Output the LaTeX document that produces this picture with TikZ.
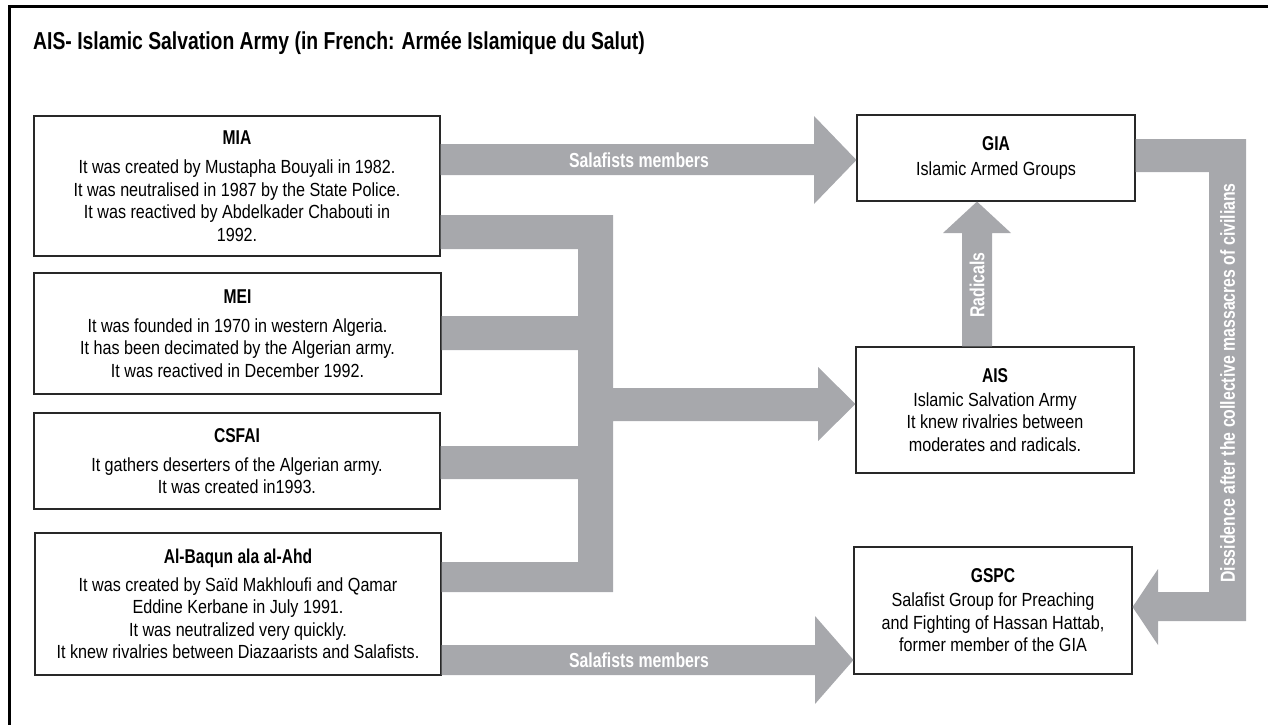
\documentclass[tikz,border=0pt]{standalone}
\usepackage{fontspec}
\setmainfont{Liberation Sans}
\newfontfamily\condreg[FakeStretch=0.85]{Liberation Sans}
\newfontfamily\condbold[FakeStretch=0.78]{Liberation Sans Bold}
\newfontfamily\condtitle[FakeStretch=0.79]{Liberation Sans Bold}

\newcommand{\bodytext}{\condreg\fontsize{19}{22.5}\selectfont}
\newcommand{\headtext}{\condbold\fontsize{20}{22.5}\selectfont}
\newcommand{\labeltext}{\condbold\fontsize{20.3}{22}\selectfont}
\newcommand{\titletext}{\condtitle\fontsize{24.5}{28}\selectfont}

\definecolor{arrowgray}{RGB}{167,168,172}
\definecolor{boxline}{RGB}{40,40,40}

\begin{document}
\begin{tikzpicture}[x=1pt,y=-1pt,
  box/.style={draw=boxline, line width=1.1pt, fill=white, align=center,
    inner sep=0pt, font=\bodytext},
  flow/.style={fill=arrowgray},
  flowlabel/.style={text=white, font=\labeltext, inner sep=0pt}]

\useasboundingbox (0,0) rectangle (1268,725);

% outer frame (top and left rules)
\draw[line width=3pt] (1268,7) -- (9.5,7) -- (9.5,725);

% heading
\node[anchor=base west, font=\titletext, inner sep=0pt] (title) at (33,50)
  {AIS- Islamic Salvation Army (in French: Armée Islamique du Salut)};

% box centres
\path
  (237,186)   coordinate (pmia)
  (237.5,333.5) coordinate (pmei)
  (237,461)   coordinate (pcsfai)
  (238,604)   coordinate (pbaqun)
  (996,158)   coordinate (pgia)
  (995,410)   coordinate (pais)
  (993,610.5) coordinate (pgspc);

% boxes: left column
\node[box, minimum width=406pt, minimum height=140pt] (mia) at (pmia)
  {{\headtext MIA}\\[6.5pt]
   It was created by Mustapha Bouyali in 1982.\\
   It was neutralised in 1987 by the State Police.\\
   It was reactived by Abdelkader Chabouti in\\
   1992.};
\node[box, minimum width=407pt, minimum height=121pt] (mei) at (pmei)
  {{\headtext MEI}\\[6.5pt]
   It was founded in 1970 in western Algeria.\\
   It has been decimated by the Algerian army.\\
   It was reactived in December 1992.};
\node[box, minimum width=406pt, minimum height=96pt] (csfai) at (pcsfai)
  {{\headtext CSFAI}\\[6.5pt]
   It gathers deserters of the Algerian army.\\
   It was created in1993.};
\node[box, minimum width=406pt, minimum height=142pt] (baqun) at (pbaqun)
  {{\headtext Al-Baqun ala al-Ahd}\\[5.5pt]
   It was created by Saïd Makhloufi and Qamar\\
   Eddine Kerbane in July 1991.\\
   It was neutralized very quickly.\\
   It knew rivalries between Diazaarists and Salafists.};

% boxes: right column
\node[box, minimum width=278pt, minimum height=86pt] (gia) at (pgia)
  {{\headtext GIA}\\[2pt]
   Islamic Armed Groups};
\node[box, minimum width=278pt, minimum height=126pt] (ais) at (pais)
  {{\headtext AIS}\\[1pt]
   Islamic Salvation Army\\
   It knew rivalries between\\
   moderates and radicals.};
\node[box, minimum width=278pt, minimum height=127pt] (gspc) at (pgspc)
  {{\headtext GSPC}\\[1.5pt]
   Salafist Group for Preaching\\
   and Fighting of Hassan Hattab,\\
   former member of the GIA};

% MIA -> GIA
\fill[flow] (mia.east |- 0,144) -- (814,144) -- (814,116) -- (gia.west |- 0,160)
  -- (814,204) -- (814,175) -- (mia.east |- 0,175) -- cycle;
\node[flowlabel] (lbltop) at (639,160) {Salafists members};

% Al-Baqun -> GSPC
\fill[flow] (baqun.east |- 0,645) -- (815,645) -- (815,616) -- (gspc.west |- 0,660)
  -- (815,704) -- (815,675) -- (baqun.east |- 0,675) -- cycle;
\node[flowlabel] (lblbot) at (639,660) {Salafists members};

% the four groups gathered into AIS
\fill[flow] (mia.east |- 0,215) -- (613,215) -- (613,388) -- (818,388) -- (818,367)
  -- (ais.west |- 0,404) -- (818,441) -- (818,421) -- (613,421) -- (613,592)
  -- (baqun.east |- 0,592) -- (baqun.east |- 0,562) -- (578,562) -- (578,479)
  -- (csfai.east |- 0,479) -- (csfai.east |- 0,446) -- (578,446) -- (578,350)
  -- (mei.east |- 0,350) -- (mei.east |- 0,316) -- (578,316) -- (578,249)
  -- (mia.east |- 0,249) -- cycle;

% AIS -> GIA
\fill[flow] (ais.north -| 962,0) -- (962,233) -- (943,233) -- (gia.south -| 977,0)
  -- (1011,233) -- (992,233) -- (ais.north -| 992,0) -- cycle;
\node[flowlabel, rotate=90] (lblrad) at (977,285) {Radicals};

% GIA -> GSPC
\fill[flow] (gia.east |- 0,139) -- (1246,139) -- (1246,621) -- (1158,621) -- (1158,645)
  -- (gspc.east |- 0,607) -- (1158,569) -- (1158,592) -- (1209,592) -- (1209,172)
  -- (gia.east |- 0,172) -- cycle;
\node[flowlabel, rotate=90] (lbldis) at (1227.5,383)
  {Dissidence after the collective massacres of civilians};

\end{tikzpicture}
\end{document}
